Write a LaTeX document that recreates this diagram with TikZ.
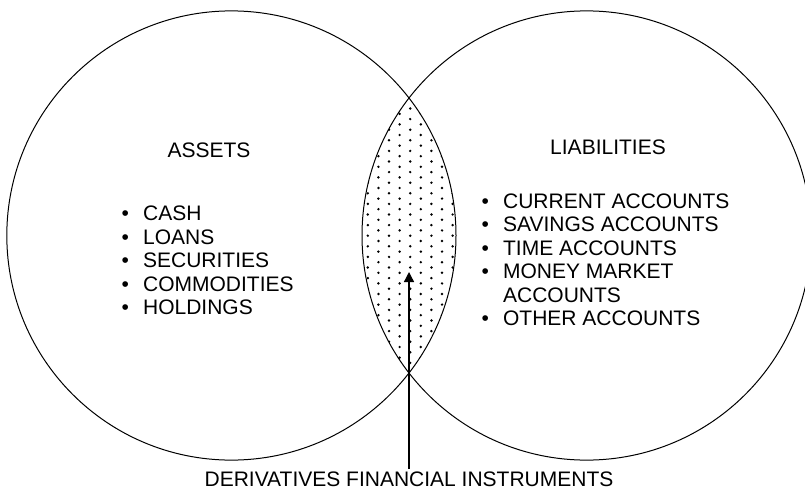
\documentclass[tikz,border=0pt]{standalone}
\usepackage{fontspec}
\setmainfont{Liberation Sans}
\usetikzlibrary{arrows.meta}
\begin{document}
\begin{tikzpicture}[x=1pt,y=-1pt,
  circ/.style={draw=black,line width=1pt},
  lbl/.style={inner sep=0pt,font=\fontsize{21}{23.5}\selectfont},
  dotmark/.style={fill=black},
  pointer/.style={line width=1.3pt,-{Triangle[length=10pt,width=10pt]}}]
\useasboundingbox (0,0) rectangle (805,495);
\clip (0,0) rectangle (805,495);
\coordinate (cl) at (231.4,235.5);
\coordinate (cr) at (586.6,235.5);
% dotted lens
\begin{scope}
  \clip (cl) circle[radius=224.6pt];
  \clip (cr) circle[radius=224.6pt];
  \foreach \m in {-5,...,5}{
    \pgfmathsetmacro\off{mod(abs(\m),2)*5.3}
    \foreach \n in {-10,...,20}{
      \fill[dotmark] ({410.2+10.6*\m},{182.7+10.6*\n+\off}) circle[radius=1.35pt];
    }
  }
\end{scope}
\draw[circ] (cl) circle[radius=224.6pt];
\draw[circ] (cr) circle[radius=224.6pt];
% headings
\node[lbl,anchor=base] (assets) at (209,157) {ASSETS};
\node[lbl,anchor=base] (liab) at (608,154) {LIABILITIES};
% lists
\node[lbl,anchor=base west] (alist) at (121.3,220.5) {%
  \begin{tabular}[t]{@{}l@{\hspace{14.3pt}}l@{}}
  \textbullet & CASH\\
  \textbullet & LOANS\\
  \textbullet & SECURITIES\\
  \textbullet & COMMODITIES\\
  \textbullet & HOLDINGS
  \end{tabular}};
\node[lbl,anchor=base west,font=\fontsize{21}{23.4}\selectfont] (llist) at (481.3,208.5) {%
  \begin{tabular}[t]{@{}l@{\hspace{14.3pt}}l@{}}
  \textbullet & CURRENT ACCOUNTS\\
  \textbullet & SAVINGS ACCOUNTS\\
  \textbullet & TIME ACCOUNTS\\
  \textbullet & MONEY MARKET\\
              & ACCOUNTS\\
  \textbullet & OTHER ACCOUNTS
  \end{tabular}};
% pointer
\node[lbl,anchor=base] (deriv) at (409,486) {DERIVATIVES FINANCIAL INSTRUMENTS};
\coordinate (tip) at (409,272);
\draw[pointer] ([yshift=2pt]deriv.north) -- (tip);
\end{tikzpicture}
\end{document}
